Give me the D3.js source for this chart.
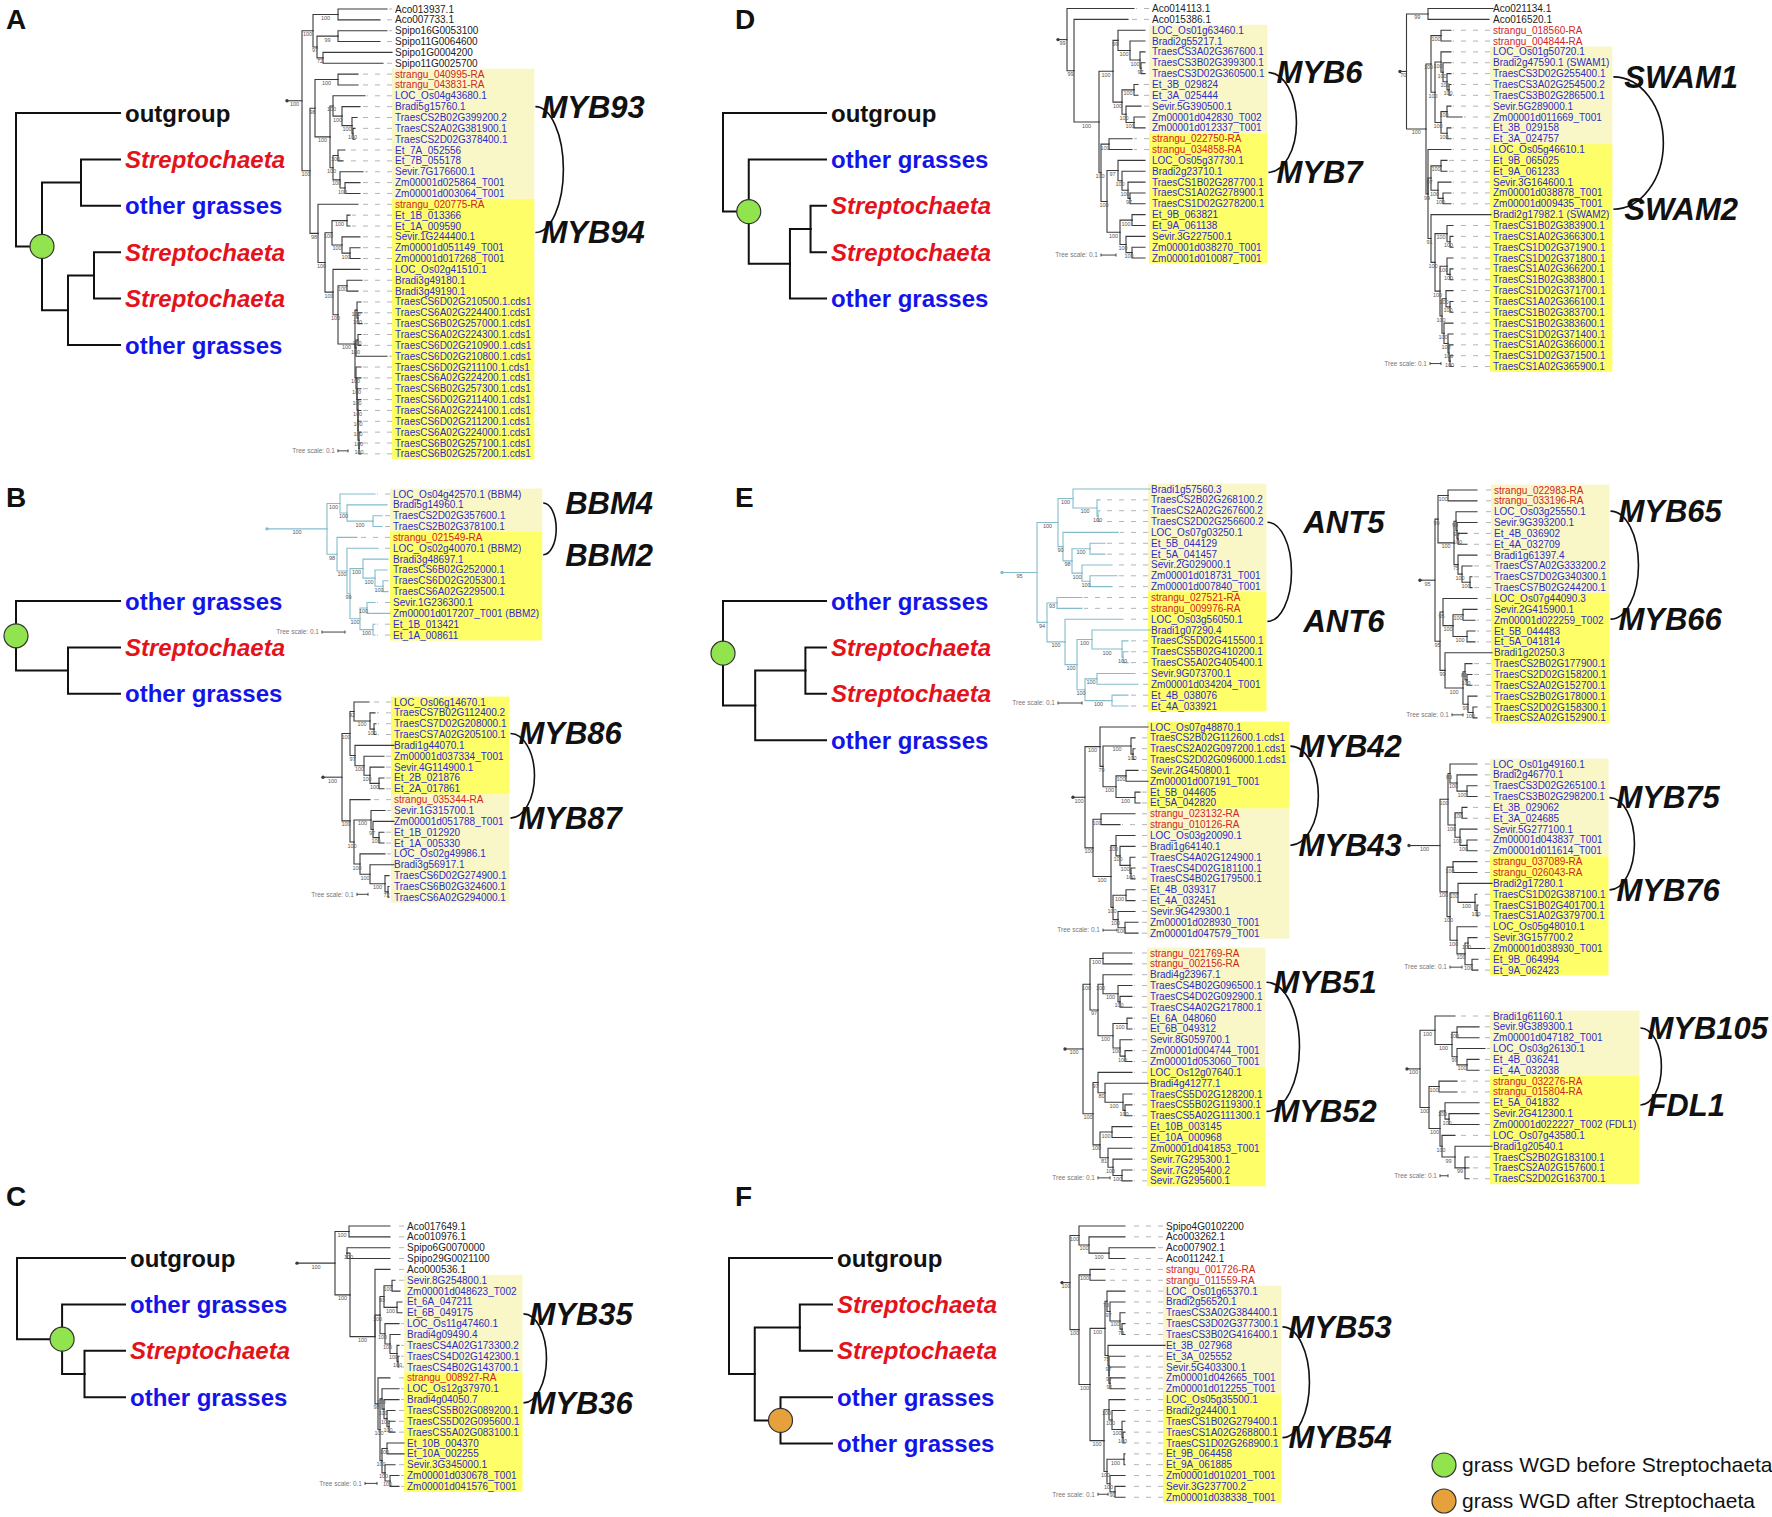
<!DOCTYPE html>
<html>
<head>
<meta charset="utf-8">
<script src="https://cdn.jsdelivr.net/npm/d3@7"></script>
<style>
  body { margin: 0; background: #fff; }
  svg { display: block; }
</style>
</head>
<body>
<div id="fig"></div>
<script>
// ---- data ------------------------------------------------------------
// gene trees: Newick, numbers after ':' are distances from the root
// (0.01 subst. units), node labels = bootstrap
const nwkA = "(((Aco013937.1:100,Aco007733.1:93)100:51,((Spipo16G0053100:100,Spipo11G0064600:93)99:51,(Spipo1G0004200:105,Spipo11G0025700:96)72:36)97:30)100:26," +
  "(((strangu_040995-RA:71,strangu_043831-RA:71)100:51,((LOC_Os04g43680.1:78,(Bradi5g15760.1:73,(TraesCS2B02G399200.2:70,(TraesCS2A02G381900.1:68,TraesCS2D02G378400.1:68)100:66)100:65)100:55)100:46,((Et_7A_052556:58,Et_7B_055178:56)100:51,(Sevir.7G176600.1:76,(Zm00001d025864_T001:73,Zm00001d003064_T001:73)100:58)100:53)100:46)100:43)98:28," +
  "(strangu_020775-RA:71,(((Et_1B_013366:63,Et_1A_009590:63)100:60,(Sevir.1G244400.1:73,(Zm00001d051149_T001:73,Zm00001d017268_T001:73)100:63)100:55)100:45,(LOC_Os02g41510.1:73,((Bradi3g49180.1:75,Bradi3g49190.1:71)100:60," +
  "((TraesCS6D02G210500.1.cds1:74,(TraesCS6A02G224400.1.cds1:75,TraesCS6B02G257000.1.cds1:75)100:71)100:70,((TraesCS6A02G224300.1.cds1:74,TraesCS6D02G210900.1.cds1:74)100:71,TraesCS6D02G210800.1.cds1:100)100:69,(TraesCS6D02G211100.1.cds1:74,(TraesCS6A02G224200.1.cds1:74,(TraesCS6B02G257300.1.cds1:74,(TraesCS6D02G211400.1.cds1:74,(TraesCS6A02G224100.1.cds1:74,(TraesCS6D02G211200.1.cds1:74,(TraesCS6A02G224000.1.cds1:74,(TraesCS6B02G257100.1.cds1:74,TraesCS6B02G257200.1.cds1:74)100:72)100:72)100:71)100:71)100:71)100:70)100:70)100:69)100:68" +
  ")100:51)100:46)100:38)98:31)100:23)100:15;";

const nwkB1 = "(('LOC_Os04g42570.1 (BBM4)':108,(Bradi5g14960.1:120,(TraesCS2D02G357600.1:115,TraesCS2B02G378100.1:115)100:106)100:80)100:73,(strangu_021549-RA:90,('LOC_Os02g40070.1 (BBM2)':111,((Bradi3g48697.1:121,(TraesCS6B02G252000.1:120,(TraesCS6D02G205300.1:121,TraesCS6A02G229500.1:121)100:116)100:108)100:96,((Sevir.1G236300.1:108,'Zm00001d017207_T001 (BBM2)':123)100:100,(Et_1B_013421:108,Et_1A_008611:108)100:106)100:93)99:83)100:80)98:70)100:60;";

const nwkB2 = "(((LOC_Os06g14670.1:46,(TraesCS7B02G112400.2:52,(TraesCS7D02G208000.1:53,TraesCS7A02G205100.1:53)100:51)100:47)92:31,(Bradi1g44070.1:71,(Zm00001d037334_T001:61,(Sevir.4G114900.1:61,(Et_2B_021876:61,Et_2A_017861:61)100:56)100:47)100:41)97:32)100:27,(strangu_035344-RA:47,((Sevir.1G315700.1:62,(Zm00001d051788_T001:71,(Et_1B_012920:61,Et_1A_005330:61)100:56)97:50)100:48,(LOC_Os02g49986.1:62,(Bradi3g56917.1:71,(TraesCS6D02G274900.1:66,(TraesCS6B02G324600.1:66,TraesCS6A02G294000.1:66)72:65)100:62)100:47)100:37)100:31)100:27)100:19;";

const nwkC = "((Aco017649.1:93,Aco010976.1:93)100:52,((Spipo6G0070000:93,Spipo29G0021100:93)100:50,(Aco000536.1:93,(((Sevir.8G254800.1:98,Zm00001d048623_T002:103)100:95,(Et_6A_047211:105,Et_6B_049175:105)100:100)93:87,(LOC_Os11g47460.1:102,(Bradi4g09490.4:103,(TraesCS4A02G173300.2:102,(TraesCS4D02G142300.1:102,TraesCS4B02G143700.1:102)100:101)100:100)100:93)100:88)100:83,(strangu_008927-RA:93,((LOC_Os12g37970.1:102,(Bradi4g04050.7:102,(TraesCS5B02G089200.1:98,(TraesCS5D02G095600.1:98,TraesCS5A02G083100.1:98)100:92)100:90)100:87)100:85,((Et_10B_004370:107,Et_10A_002255:107)100:90,(Sevir.3G345000.1:98,(Zm00001d030678_T001:102,Zm00001d041576_T001:102)100:93)100:88)100:85)100:83)98:81)100:78)100:53)100:38)100:35;";

const nwkD1 = "(Aco014113.1:76,(Aco015386.1:70,(((LOC_Os01g63460.1:87,(Bradi2g55217.1:87,(TraesCS3A02G367600.1:87,(TraesCS3B02G399300.1:87,TraesCS3D02G360500.1:87)97:83)100:82)100:72)99:60,((Et_3B_029824:80,Et_3A_025444:80)100:76,(Sevir.5G390500.1:83,(Zm00001d042830_T002:87,Zm00001d012337_T001:87)100:76)100:68)100:64)100:55,((strangu_022750-RA:74,strangu_034858-RA:74)100:51,((LOC_Os05g37730.1:87,(Bradi2g23710.1:87,(TraesCS1B02G287700.1:87,(TraesCS1A02G278900.1:87,TraesCS1D02G278200.1:87)97:72)100:70)100:64)97:60,((Et_9B_063821:87,Et_9A_061138:87)100:74,(Sevir.3G227500.1:87,(Zm00001d038270_T001:87,Zm00001d010087_T001:87)100:74)100:68)100:62)100:49)100:43)100:41)99:16)99:9;";

const nwkD2 = "((Aco021134.1:93,Aco016520.1:89)99:28,(((strangu_018560-RA:51,strangu_004844-RA:51)100:41,((LOC_Os01g50720.1:51,('Bradi2g47590.1 (SWAM1)':51,(TraesCS3D02G255400.1:51,(TraesCS3A02G254500.2:51,TraesCS3B02G286500.1:51)100:49)100:47)100:43)100:41,((Sevir.5G289000.1:51,Zm00001d011669_T001:62)100:47,(Et_3B_029158:51,Et_3A_024757:51)100:47)100:41)100:35)100:31," +
  "(LOC_Os05g46610.1:51,((Et_9B_065025:47,Et_9A_061233:47)100:41,(Sevir.3G164600.1:51,(Zm00001d038878_T001:51,Zm00001d009435_T001:51)100:43)100:38)97:31,('Bradi2g17982.1 (SWAM2)':91," +
  "((TraesCS1B02G383900.1:53,(TraesCS1A02G366300.1:53,TraesCS1D02G371900.1:53)100:50)100:47,((TraesCS1D02G371800.1:53,(TraesCS1A02G366200.1:53,TraesCS1B02G383800.1:53)100:50)100:47,((TraesCS1D02G371700.1:53,(TraesCS1A02G366100.1:53,TraesCS1B02G383700.1:53)100:50)100:46,(TraesCS1B02G383600.1:53,(TraesCS1D02G371400.1:53,(TraesCS1A02G366000.1:53,(TraesCS1D02G371500.1:53,TraesCS1A02G365900.1:53)100:50)100:49)100:48)100:44)100:42)100:40)100:35" +
  ")91:31)99:28)100:26)70:6.5;";

const nwkE1 = "(((Bradi1g57560.3:148,(TraesCS2B02G268100.2:98,(TraesCS2A02G267600.2:98,TraesCS2D02G256600.2:98)100:96)100:95)100:71,(LOC_Os07g03250.1:116,((Et_5B_044129:103,Et_5A_041457:103)100:88,(Sevir.2G029000.1:110,(Zm00001d018731_T001:115,Zm00001d007840_T001:110)100:88)100:80)98:70)90:61)100:56,((strangu_027521-RA:80,strangu_009976-RA:80)93:55,(LOC_Os03g56050.1:121,((Bradi1g07290.4:148,(TraesCS5D02G415500.1:126,(TraesCS5B02G410200.1:126,TraesCS5A02G405400.1:126)100:121)100:120)100:90,((Sevir.9G073700.1:133,Zm00001d034204_T001:136)100:95,(Et_4B_038076:126,Et_4A_033921:126)100:110)100:83)100:75)100:63)94:45)95:35;";

const nwkE2 = "(((strangu_022983-RA:57,strangu_033196-RA:57)100:28,((LOC_Os03g25550.1:57,(Sevir.9G393200.1:57,(Et_4B_036902:47,Et_4A_032709:47)100:38)99:37)99:36,(Bradi1g61397.4:57,(TraesCS7A02G333200.2:52,(TraesCS7D02G340300.1:52,TraesCS7B02G244200.1:52)100:50)100:42)75:38)100:34)99:18," +
  "((LOC_Os07g44090.3:57,((Sevir.2G415900.1:57,Zm00001d022259_T002:55)100:43,(Et_5B_044483:55,Et_5A_041814:55)100:47)100:33)95:23,(Bradi1g20250.3:72,((TraesCS2B02G177900.1:52,(TraesCS2D02G158200.1:52,TraesCS2A02G152700.1:52)100:47)80:45,(TraesCS2B02G178000.1:57,(TraesCS2D02G158300.1:57,TraesCS2A02G152900.1:57)100:53)99:48)100:43)99:25)95:20)95:15;";

const nwkE3 = "((LOC_Os07g48870.1:75,((TraesCS2B02G112600.1.cds1:62,(TraesCS2A02G097200.1.cds1:62,TraesCS2D02G096000.1.cds1:62)100:60)100:58,((Sevir.2G450800.1:65,Zm00001d007191_T001:75)100:53,(Et_5B_044605:67,Et_5A_042820:67)100:62)100:43)79:30)100:27,((strangu_023132-RA:62,strangu_010126-RA:47)100:28,((LOC_Os03g20090.1:62,(Bradi1g64140.1:62,(TraesCS4A02G124900.1:62,(TraesCS4D02G181100.1:62,TraesCS4B02G179500.1:62)100:58)100:57)100:47)100:43,((Et_4B_039317:62,Et_4A_032451:62)100:53,(Sevir.9G429300.1:62,(Zm00001d028930_T001:65,Zm00001d047579_T001:65)100:52)100:45)100:40)100:38)100:20)100:12;";

const nwkE4 = "(((LOC_Os01g49160.1:68,(Bradi2g46770.1:68,(TraesCS3D02G265100.1:68,TraesCS3B02G298200.1:68)100:58)100:48)83:41,((Et_3B_029062:58,Et_3A_024685:58)100:53,(Sevir.5G277100.1:68,(Zm00001d043837_T001:68,Zm00001d011614_T001:68)100:58)100:51)100:46)100:39,((strangu_037089-RA:68,strangu_026043-RA:68)100:44,((Bradi2g17280.1:83,(TraesCS1D02G387100.1:68,(TraesCS1B02G401700.1:69,TraesCS1A02G379700.1:69)100:68)100:66)100:49,(LOC_Os05g48010.1:68,((Sevir.3G157700.2:68,Zm00001d038930_T001:76)100:59,(Et_9B_064994:69,Et_9A_062423:69)100:63)100:56)100:48)100:41)100:38)100:31;";

const nwkE5 = "(((strangu_021769-RA:67,strangu_002156-RA:67)100:38,((Bradi4g23967.1:67,(TraesCS4B02G096500.1:67,(TraesCS4D02G092900.1:67,TraesCS4A02G217800.1:67)100:55)100:53)100:38,((Et_6A_048060:67,Et_6B_049312:67)100:62,(Sevir.8G059700.1:67,(Zm00001d004744_T001:67,Zm00001d053060_T001:67)100:60)100:55)100:48)97:33)100:25,((LOC_Os12g07640.1:67,(Bradi4g41277.1:83,(TraesCS5D02G128200.1:67,(TraesCS5B02G119300.1:67,TraesCS5A02G111300.1:67)100:60)100:58)80:40)97:33,((Et_10B_003145:67,Et_10A_000968:67)100:47,(Zm00001d041853_T001:67,(Sevir.7G295300.1:67,(Sevir.7G295400.2:67,Sevir.7G295600.1:67)100:57)100:48)81:43)100:35)100:28)100:18;";

const nwkE6 = "((Bradi1g61160.1:48,((Sevir.9G389300.1:72,Zm00001d047182_T001:72)100:50,(LOC_Os03g26130.1:78,(Et_4B_036241:72,Et_4A_032038:72)100:60)99:50)100:45)100:28,((strangu_032276-RA:50,strangu_015804-RA:50)100:32,((Et_5A_041832:72,(Sevir.2G412300.1:72,'Zm00001d022227_T002 (FDL1)':72)100:42)100:38,(LOC_Os07g43580.1:48,(Bradi1g20540.1:85,(TraesCS2B02G183100.1:62,TraesCS2A02G157600.1:62,TraesCS2D02G163700.1:62)99:58)99:48)100:35)100:33)100:22)100:13;";

const nwkF = "((Spipo4G0102200:63,(Aco003262.1:63,(Aco007902.1:93,Aco011242.1:63)100:47)100:27)100:17,((strangu_001726-RA:43,strangu_011559-RA:43)100:28,(((LOC_Os01g65370.1:63,(Bradi2g56520.1:63,(TraesCS3A02G384400.1:63,(TraesCS3D02G377300.1:63,TraesCS3B02G416400.1:63)79:60)100:58)97:48)73:45,(Et_3B_027968:103,(Et_3A_025552:63,(Sevir.5G403300.1:63,(Zm00001d042665_T001:63,Zm00001d012255_T001:63)91:48)97:47)97:47)75:46)100:43,((LOC_Os05g35500.1:63,(Bradi2g24400.1:63,(TraesCS1B02G279400.1:63,(TraesCS1A02G268800.1:63,TraesCS1D02G268900.1:63)100:61)100:60)100:50)100:47,((Et_9B_064458:63,Et_9A_061885:63)100:62,(Zm00001d010201_T001:63,(Sevir.3G237700.2:63,Zm00001d038338_T001:63)90:53)100:48)100:45)100:42)100:28)100:17)100:8;";

const treeNewick = [nwkA, nwkB1, nwkB2, nwkC, nwkD1, nwkD2, nwkE1, nwkE2, nwkE3, nwkE4, nwkE5, nwkE6, nwkF];
const familyNames = [["MYB93","MYB94"], ["BBM4","BBM2"], ["MYB86","MYB87"], ["MYB35","MYB36"],
  ["MYB6","MYB7"], ["SWAM1","SWAM2"], ["ANT5","ANT6"], ["MYB65","MYB66"], ["MYB42","MYB43"],
  ["MYB75","MYB76"], ["MYB51","MYB52"], ["MYB105","FDL1"], ["MYB53","MYB54"]];
// leaf row ranges of the two paralogue clades
const paleRows   = [[6,17],[0,3],[9,18],[5,13],[2,11],[4,12],[0,9],[0,9],[8,19],[0,8],[0,10],[0,5],[6,15]];
const brightRows = [[18,41],[4,13],[0,8],[14,24],[12,23],[13,33],[10,20],[10,21],[0,7],[9,19],[11,21],[6,15],[16,25]];
// length of the "0.1" scale bar in tree units
const scaleBarUnits = [10, 23, 11, 12, 15, 11, 24, 11, 14, 12, 12, 8, 10];

// summary cladograms (depths in cartoon levels), node label = WGD marker
const cartoonNewick = [
  "(outgroup:4,((Streptochaeta:4,'other grasses':4):2.5,((Streptochaeta:4,Streptochaeta:4):3,'other grasses':4):2)before:1):0;",
  "('other grasses':4,(Streptochaeta:4,'other grasses':4):2)before:0;",
  "(outgroup:4,('other grasses':4,(Streptochaeta:4,'other grasses':4):2.5)before:1.67):0;",
  "(outgroup:4,('other grasses':4,((Streptochaeta:4,Streptochaeta:4):3.4,'other grasses':4):2.6)before:1):0;",
  "('other grasses':4,((Streptochaeta:4,Streptochaeta:4):3.2,'other grasses':4):1.25)before:0;",
  "(outgroup:4,((Streptochaeta:4,Streptochaeta:4):2.75,('other grasses':4,'other grasses':4)after:2):1):0;"
];
const panelLetters = ["A", "B", "C", "D", "E", "F"];
const legendKeys = ["before", "after"];
const legendLabels = ["grass WGD before Streptochaeta", "grass WGD after Streptochaeta"];

// ---- layout -----------------------------------------------------------
const W = 1772, H = 1517, ROW = 10.85, CROW = 46.4;
const FONT = "'Liberation Sans', Arial, Helvetica, sans-serif";
const LINE = "#3a3a3a", TEAL = "#84bccb", PALE = "#f9f6c8", BRIGHT = "#fefe68";
const RED = "#d0261c", BLUE = "#2c2cc8";
const WGD = {before: "#92e44f", after: "#e6a03c"};

const treeLayout = [
  {rootX: 287,  top: 9,    labelX: 395,  famRows: [9, 20.6],    gap: 7,  bulge: 28, bar: 51},
  {rootX: 267,  top: 494,  labelX: 393,  famRows: [0.83, 5.6],  gap: 23, bulge: 13, bar: 55, teal: true},
  {rootX: 323,  top: 702,  labelX: 394,  famRows: [2.9, 10.7],  gap: 9,  bulge: 24, bar: 34},
  {rootX: 297,  top: 1226, labelX: 407,  famRows: [8.1, 16.3],  gap: 7,  bulge: 23, bar: 68},
  {rootX: 1058, top: 8.5,  labelX: 1152, famRows: [5.9, 15.1],  gap: 9,  bulge: 28, bar: 43},
  {rootX: 1400, top: 8.5,  labelX: 1493, famRows: [6.3, 18.5],  gap: 12, bulge: 50, bar: 30},
  {rootX: 1002, top: 489,  labelX: 1151, famRows: [3.06, 12.2], gap: 37, bulge: 24, bar: 56, teal: true},
  {rootX: 1420, top: 490,  labelX: 1494, famRows: [1.95, 11.9], gap: 9,  bulge: 28, bar: 32},
  {rootX: 1073, top: 727,  labelX: 1150, famRows: [1.76, 10.9], gap: 9,  bulge: 28, bar: 30},
  {rootX: 1409, top: 764,  labelX: 1493, famRows: [3.1, 11.6],  gap: 8,  bulge: 25, bar: 41},
  {rootX: 1065, top: 953,  labelX: 1150, famRows: [2.7, 14.6],  gap: 8,  bulge: 33, bar: 33},
  {rootX: 1407, top: 1016, labelX: 1493, famRows: [1.1, 8.2],   gap: 8,  bulge: 21, bar: 33},
  {rootX: 1062, top: 1226, labelX: 1166, famRows: [9.3, 19.5],  gap: 7,  bulge: 27, bar: 36}
];
const cartoonLayout = [
  {rootX: 16,  top: 113,  unit: 26},
  {rootX: 16,  top: 601,  unit: 26},
  {rootX: 17,  top: 1258, unit: 27},
  {rootX: 723, top: 113,  unit: 25.75},
  {rootX: 723, top: 601,  unit: 25.75},
  {rootX: 729, top: 1258, unit: 25.75}
];
const letterPos = [[6, 29], [6, 507], [6, 1206], [735, 29], [735, 507], [735, 1206]];

// ---- helpers ----------------------------------------------------------
function parseNewick(s) {
  let i = 0;
  const ws = () => { while (i < s.length && /\s/.test(s[i])) i++; };
  function name() {
    ws();
    if (s[i] === "'") {
      const j = s.indexOf("'", i + 1);
      const n = s.slice(i + 1, j); i = j + 1; return n;
    }
    let j = i;
    while (j < s.length && !/[(),:;]/.test(s[j])) j++;
    const n = s.slice(i, j).trim(); i = j; return n;
  }
  function node() {
    ws();
    const nd = {};
    if (s[i] === "(") {
      i++; nd.children = [];
      while (true) {
        nd.children.push(node()); ws();
        if (s[i] === ",") { i++; continue; }
        if (s[i] === ")") { i++; break; }
        throw new Error("bad newick at " + i);
      }
      nd.support = name();
    } else nd.name = name();
    ws();
    if (s[i] === ":") {
      i++; ws();
      let j = i;
      while (j < s.length && /[0-9.eE+-]/.test(s[j])) j++;
      nd.dist = +s.slice(i, j); i = j;
    }
    return nd;
  }
  return node();
}

function layoutTree(nwk, rootX, top, rowH, unit) {
  const root = d3.hierarchy(parseNewick(nwk));
  const leaves = root.leaves();
  const y = d3.scaleLinear().domain([0, leaves.length - 1]).range([top, top + (leaves.length - 1) * rowH]);
  const x = d3.scaleLinear().domain([0, 100]).range([rootX, rootX + 100 * unit]);
  leaves.forEach((d, i) => { d.row = i; });
  root.eachAfter(d => {
    d.x = x(d.data.dist || 0);
    d.y = d.children ? (d.children[0].y + d.children[d.children.length - 1].y) / 2 : y(d.row);
  });
  return {root, leaves, x, y};
}

const elbow = l => `M${l.source.x},${l.source.y}V${l.target.y}H${l.target.x}`;

function leafColor(n) {
  if (/^strangu/.test(n)) return RED;
  if (/^(Aco|Spipo)/.test(n)) return "#222";
  return BLUE;
}

const svg = d3.select("#fig").append("svg")
  .attr("width", W).attr("height", H)
  .style("font-family", FONT);
svg.append("rect").attr("width", W).attr("height", H).attr("fill", "#fff");

// ---- gene trees -------------------------------------------------------
function drawGeneTree(i) {
  const L = treeLayout[i];
  const {root, leaves, x, y} = layoutTree(treeNewick[i], L.rootX, L.top, ROW, 1);
  const col = L.teal ? TEAL : LINE;
  const g = svg.append("g");
  const gBox = g.append("g");

  const labs = g.append("g").selectAll("text").data(leaves).join("text")
    .attr("x", L.labelX).attr("y", d => d.y).attr("dy", "0.35em")
    .attr("font-size", 10).attr("fill", d => leafColor(d.data.name))
    .text(d => d.data.name);
  let maxW = 0;
  labs.each(function () { maxW = Math.max(maxW, this.getComputedTextLength()); });
  const boxR = L.labelX + maxW + 3;

  [[paleRows[i], PALE], [brightRows[i], BRIGHT]].forEach(([r, c]) => {
    gBox.append("rect")
      .attr("x", L.labelX - 3).attr("y", y(r[0]) - ROW / 2)
      .attr("width", boxR - L.labelX + 3).attr("height", y(r[1]) - y(r[0]) + ROW)
      .attr("fill", c);
  });

  // dashed leaders from tips to labels
  g.append("g").selectAll("line")
    .data(leaves.filter(d => L.labelX - 3 - d.x > 4)).join("line")
    .attr("x1", L.labelX - 3).attr("x2", d => d.x + 2)
    .attr("y1", d => d.y).attr("y2", d => d.y)
    .attr("stroke", "#b4b4b4").attr("stroke-width", 1).attr("stroke-dasharray", "5,7");

  g.append("g").selectAll("path").data(root.links()).join("path")
    .attr("d", elbow).attr("fill", "none")
    .attr("stroke", col).attr("stroke-width", 1.1).attr("stroke-linecap", "square");
  g.append("line").attr("x1", x(0)).attr("x2", root.x).attr("y1", root.y).attr("y2", root.y)
    .attr("stroke", col).attr("stroke-width", 1.1);
  g.append("circle").attr("cx", x(0)).attr("cy", root.y).attr("r", 1.7).attr("fill", col);

  // bootstrap values at branch midpoints
  g.append("g").selectAll("text")
    .data(root.descendants().filter(d => d.children && d.data.support)).join("text")
    .attr("x", d => ((d.parent ? d.parent.x : x(0)) + d.x) / 2)
    .attr("y", d => d.y + 5.5)
    .attr("text-anchor", "middle").attr("font-size", 5.5).attr("fill", "#555")
    .text(d => d.data.support);

  // scale bar
  const by = y(leaves.length - 1) - 3;
  const bx0 = x(L.bar), bx1 = x(L.bar + scaleBarUnits[i]);
  g.append("text").attr("x", bx0 - 3).attr("y", by).attr("dy", "0.35em")
    .attr("text-anchor", "end").attr("font-size", 6.5).attr("fill", "#777")
    .text("Tree scale: 0.1");
  g.append("path").attr("d", `M${bx0},${by - 1.5}V${by + 1.5}M${bx0},${by}H${bx1}M${bx1},${by - 1.5}V${by + 1.5}`)
    .attr("stroke", "#444").attr("stroke-width", 1).attr("fill", "none");

  // paralogue pair names and joining arc
  const y1 = y(L.famRows[0]), y2 = y(L.famRows[1]);
  g.append("path")
    .attr("d", `M${boxR + 1},${y1}A${L.bulge},${(y2 - y1) / 2} 0 0 1 ${boxR + 1},${y2}`)
    .attr("fill", "none").attr("stroke", "#111").attr("stroke-width", 1.6);
  g.append("g").selectAll("text").data(familyNames[i]).join("text")
    .attr("x", boxR + L.gap).attr("y", (d, k) => k ? y2 : y1).attr("dy", "0.35em")
    .attr("font-size", 31).attr("font-weight", "bold").attr("font-style", "italic")
    .attr("fill", "#111").text(d => d);
}

// ---- summary cladograms ----------------------------------------------
function drawCartoon(i) {
  const L = cartoonLayout[i];
  const {root, leaves} = layoutTree(cartoonNewick[i], L.rootX, L.top, CROW, L.unit);
  const g = svg.append("g");
  g.append("g").selectAll("path").data(root.links()).join("path")
    .attr("d", elbow).attr("fill", "none")
    .attr("stroke", "#111").attr("stroke-width", 2).attr("stroke-linecap", "square");
  g.append("g").selectAll("text").data(leaves).join("text")
    .attr("x", d => d.x + 5).attr("y", d => d.y).attr("dy", "0.36em")
    .attr("font-size", 24).attr("font-weight", "bold")
    .attr("font-style", d => d.data.name === "Streptochaeta" ? "italic" : "normal")
    .attr("fill", d => d.data.name === "Streptochaeta" ? "#e3131b" : d.data.name === "outgroup" ? "#111" : "#1414e8")
    .text(d => d.data.name);
  g.append("g").selectAll("circle")
    .data(root.descendants().filter(d => WGD[d.data.support])).join("circle")
    .attr("cx", d => d.x).attr("cy", d => d.y).attr("r", 12)
    .attr("fill", d => WGD[d.data.support]).attr("stroke", "#333").attr("stroke-width", 1.2);
}

treeNewick.forEach((_, i) => drawGeneTree(i));
cartoonNewick.forEach((_, i) => drawCartoon(i));

svg.append("g").selectAll("text").data(panelLetters).join("text")
  .attr("x", (d, i) => letterPos[i][0]).attr("y", (d, i) => letterPos[i][1])
  .attr("font-size", 28).attr("font-weight", "bold").attr("fill", "#111")
  .text(d => d);

// legend
const lg = svg.append("g").attr("transform", "translate(1444,1465)");
lg.selectAll("circle").data(legendKeys).join("circle")
  .attr("cx", 0).attr("cy", (d, i) => i * 36).attr("r", 12)
  .attr("fill", d => WGD[d]).attr("stroke", "#333").attr("stroke-width", 1.2);
lg.selectAll("text").data(legendLabels).join("text")
  .attr("x", 18).attr("y", (d, i) => i * 36).attr("dy", "0.35em")
  .attr("font-size", 21).attr("fill", "#111").text(d => d);
</script>
</body>
</html>
